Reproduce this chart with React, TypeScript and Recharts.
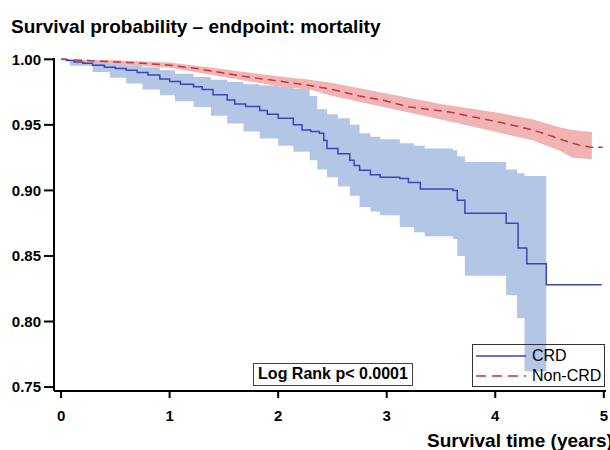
import { Area, ComposedChart, Line, XAxis, YAxis } from "recharts";

// CRD: Kaplan-Meier estimate (step) and 95% band
const crdTime = [
  0, 0.05, 0.12, 0.2, 0.29, 0.4, 0.5, 0.6, 0.7, 0.8, 0.91, 1.0, 1.1, 1.22, 1.3, 1.4, 1.53, 1.6, 1.7,
  1.83, 1.9, 2.0, 2.14, 2.22, 2.3, 2.38, 2.42, 2.45, 2.55, 2.66, 2.7, 2.75, 2.85, 2.94, 3.12, 3.2,
  3.31, 3.61, 3.65, 3.72, 4.1, 4.21, 4.29, 4.47, 4.98,
];
const crdSurv = [
  1.0, 0.999, 0.998, 0.997, 0.9954, 0.994, 0.993, 0.9916, 0.99, 0.988, 0.985, 0.983, 0.981, 0.979,
  0.977, 0.973, 0.969, 0.966, 0.964, 0.961, 0.958, 0.955, 0.95, 0.946, 0.945, 0.9436, 0.938, 0.932,
  0.928, 0.923, 0.919, 0.9154, 0.912, 0.91, 0.909, 0.906, 0.901, 0.9, 0.8925, 0.8826, 0.875, 0.856,
  0.844, 0.828, 0.828,
];
const crdBandTime = [
  0, 0.08, 0.29, 0.45, 0.6, 0.75, 0.91, 1.05, 1.22, 1.38, 1.53, 1.68, 1.83, 2.0, 2.14, 2.29, 2.36,
  2.45, 2.55, 2.66, 2.75, 2.85, 2.94, 3.12, 3.25, 3.35, 3.61, 3.65, 3.72, 4.1, 4.2, 4.27, 4.47,
];
const crdLower = [
  1.0, 0.995, 0.9903, 0.986, 0.9815, 0.977, 0.9726, 0.968, 0.9637, 0.957, 0.951, 0.945, 0.9396,
  0.934, 0.9294, 0.923, 0.916, 0.91, 0.903, 0.896, 0.8874, 0.884, 0.881, 0.872, 0.868, 0.865, 0.863,
  0.85, 0.835, 0.82, 0.8026, 0.762, 0.762,
];
const crdUpper = [
  1.0, 0.9995, 0.998, 0.997, 0.9954, 0.994, 0.9916, 0.989, 0.9865, 0.9845, 0.9827, 0.981, 0.98,
  0.979, 0.9777, 0.972, 0.962, 0.958, 0.955, 0.95, 0.9436, 0.941, 0.939, 0.936, 0.934, 0.932, 0.9306,
  0.926, 0.9217, 0.916, 0.913, 0.911, 0.911,
];

// Non-CRD
const nonTime = [
  0, 0.25, 0.5, 0.75, 1.0, 1.25, 1.5, 1.68, 2.0, 2.29, 2.5, 2.75, 2.97, 3.21, 3.58, 3.8, 4.04, 4.2,
  4.35, 4.5, 4.6, 4.71, 4.8, 4.89, 4.99,
];
const nonSurv = [
  1.0, 0.999, 0.998, 0.997, 0.9955, 0.993, 0.9895, 0.987, 0.9835, 0.98, 0.977, 0.972, 0.9687, 0.9636,
  0.9598, 0.956, 0.952, 0.949, 0.946, 0.942, 0.939, 0.936, 0.934, 0.933, 0.933,
];
const nonBandTime = [0, 0.5, 1.0, 1.5, 2.0, 2.29, 2.5, 3.0, 3.5, 4.04, 4.35, 4.6, 4.71, 4.89];
const nonLower = [
  1.0, 0.9965, 0.9935, 0.9865, 0.9795, 0.977, 0.972, 0.963, 0.954, 0.944, 0.938, 0.93, 0.925, 0.9238,
];
const nonUpper = [
  1.0, 0.9992, 0.9975, 0.9925, 0.987, 0.9845, 0.982, 0.974, 0.966, 0.959, 0.954, 0.948, 0.946, 0.9446,
];

const xTicks = [0, 1, 2, 3, 4, 5];
const yTicks = [0.75, 0.8, 0.85, 0.9, 0.95, 1.0];
const legendNames = ["CRD", "Non-CRD"];

const crdLine = crdTime.map((t, i) => ({ t, s: crdSurv[i] }));
const crdBand = crdBandTime.map((t, i) => ({ t, ci: [crdLower[i], crdUpper[i]] }));
const nonLine = nonTime.map((t, i) => ({ t, s: nonSurv[i] }));
const nonBand = nonBandTime.map((t, i) => ({ t, ci: [nonLower[i], nonUpper[i]] }));

const FONT = '"Liberation Sans", Arial, Helvetica, sans-serif';
const BLUE = "#3a45b8";
const RED = "#be3548";
const RED_DASH = "8 5";
const X_DOMAIN: [number, number] = [-0.065, 5.02];
const Y_DOMAIN: [number, number] = [0.747, 1.001];

const legendItems = [
  { name: legendNames[0], color: BLUE, dash: undefined },
  { name: legendNames[1], color: RED, dash: "10 6" },
];

function LegendBox() {
  return (
    <div
      style={{
        position: "absolute",
        left: 472,
        top: 344,
        width: 133,
        height: 43,
        border: "1.5px solid #333",
        boxSizing: "border-box",
        padding: "1px 0 0 2px",
        fontSize: 16,
        color: "#000",
      }}
    >
      {legendItems.map((it) => (
        <div key={it.name} style={{ display: "flex", alignItems: "center", height: 20 }}>
          <svg width={52} height={10} style={{ marginRight: 5 }}>
            <line
              x1={1}
              x2={51}
              y1={5}
              y2={5}
              stroke={it.color}
              strokeWidth={1.5}
              strokeDasharray={it.dash}
            />
          </svg>
          <span>{it.name}</span>
        </div>
      ))}
    </div>
  );
}

export default function App() {
  return (
    <div
      style={{
        position: "absolute",
        left: 0,
        top: 0,
        width: 610,
        height: 450,
        overflow: "hidden",
        background: "#fff",
        fontFamily: FONT,
      }}
    >
      <div
        style={{
          position: "absolute",
          left: 11,
          top: 17,
          fontSize: 19,
          lineHeight: "19px",
          fontWeight: 700,
          whiteSpace: "nowrap",
        }}
      >
        Survival probability – endpoint: mortality
      </div>
      <ComposedChart
        width={610}
        height={450}
        margin={{ top: 58, right: 4, bottom: 29, left: 0 }}
        style={{ fontFamily: FONT }}
      >
        <XAxis
          dataKey="t"
          type="number"
          domain={X_DOMAIN}
          ticks={xTicks}
          allowDataOverflow
          height={30}
          tickSize={7}
          tickMargin={12}
          axisLine={{ stroke: "#000", strokeWidth: 2 }}
          tickLine={{ stroke: "#000", strokeWidth: 2 }}
          tick={{ fill: "#000", fontSize: 15, fontWeight: 700 }}
        />
        <XAxis
          xAxisId="top"
          orientation="top"
          type="number"
          domain={X_DOMAIN}
          height={0}
          tick={false}
          tickLine={false}
          axisLine={{ stroke: "#000", strokeWidth: 2 }}
        />
        <YAxis
          type="number"
          domain={Y_DOMAIN}
          ticks={yTicks}
          allowDataOverflow
          width={54}
          tickSize={10}
          tickMargin={3}
          tickFormatter={(v: number) => v.toFixed(2)}
          axisLine={{ stroke: "#000", strokeWidth: 2 }}
          tickLine={{ stroke: "#000", strokeWidth: 2 }}
          tick={{ fill: "#000", fontSize: 15, fontWeight: 700 }}
        />
        <YAxis
          yAxisId="right"
          orientation="right"
          type="number"
          domain={Y_DOMAIN}
          width={0}
          tick={false}
          tickLine={false}
          axisLine={{ stroke: "#000", strokeWidth: 2 }}
        />
        <Area
          data={crdBand}
          dataKey="ci"
          type="stepAfter"
          fill="#b4c6e6"
          fillOpacity={1}
          stroke="none"
          isAnimationActive={false}
        />
        <Area
          data={nonBand}
          dataKey="ci"
          type="linear"
          fill="#f1b4b2"
          fillOpacity={1}
          stroke="none"
          isAnimationActive={false}
        />
        <Line
          data={crdLine}
          dataKey="s"
          name={legendNames[0]}
          type="stepAfter"
          stroke={BLUE}
          strokeWidth={1.5}
          dot={false}
          isAnimationActive={false}
        />
        <Line
          data={nonLine}
          dataKey="s"
          name={legendNames[1]}
          type="linear"
          stroke={RED}
          strokeWidth={1.5}
          strokeDasharray={RED_DASH}
          dot={false}
          isAnimationActive={false}
        />
      </ComposedChart>
      <LegendBox />
      <div
        style={{
          position: "absolute",
          left: 253,
          top: 363,
          width: 160,
          height: 23,
          border: "1.5px solid #444",
          boxSizing: "border-box",
          fontSize: 16,
          fontWeight: 700,
          lineHeight: "20px",
          textAlign: "center",
          whiteSpace: "nowrap",
        }}
      >
        Log Rank p&lt; 0.0001
      </div>
      <div
        style={{
          position: "absolute",
          left: 427,
          top: 431,
          fontSize: 19,
          lineHeight: "19px",
          fontWeight: 700,
          whiteSpace: "nowrap",
        }}
      >
        Survival time (years)
      </div>
    </div>
  );
}
